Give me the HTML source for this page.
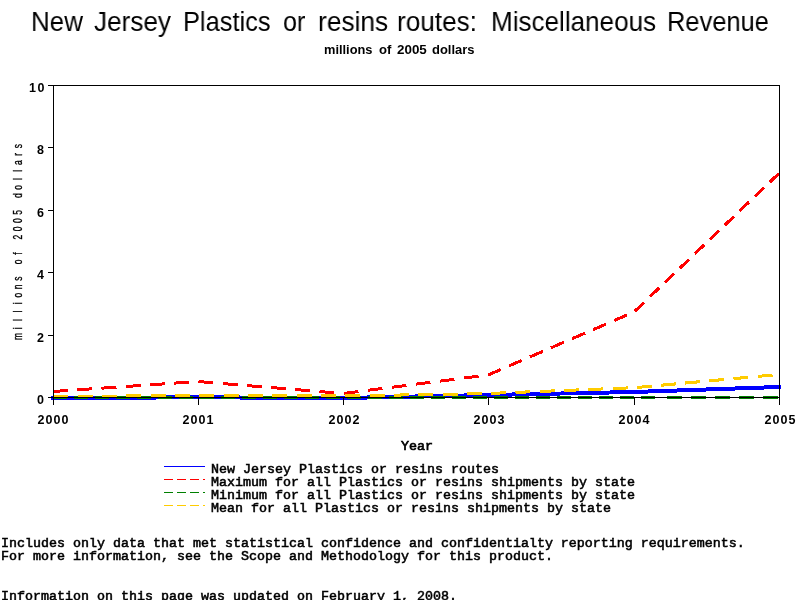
<!DOCTYPE html>
<html><head><meta charset="utf-8"><style>
html,body{margin:0;padding:0;background:#fff;width:800px;height:600px;overflow:hidden}
body{position:relative}
.t{position:absolute;white-space:pre;line-height:1;margin:0;will-change:transform}
.sans{font-family:"Liberation Sans",sans-serif}
.mono{font-family:"Liberation Mono",monospace;-webkit-text-stroke:0.55px #000}
svg{position:absolute;left:0;top:0;will-change:transform}
</style></head><body>

<svg width="800" height="600" viewBox="0 0 800 600">
<path d="M53.0 398.0 L198.0 397.3 L343.0 398.0 L488.0 395.0 L634.0 392.0 L779.0 387.0" fill="none" stroke="#0000ff" stroke-width="4" stroke-linecap="square" shape-rendering="crispEdges"/>
<path d="M53.00 391.50 L67.94 390.47 M77.25 389.83 L92.18 388.80 M101.49 388.16 L116.43 387.13 M125.74 386.48 L140.68 385.45 M149.99 384.81 L164.92 383.78 M174.23 383.14 L189.17 382.11 M198.48 381.54 L213.39 382.77 M222.68 383.54 L237.59 384.78 M246.88 385.55 L261.79 386.78 M271.08 387.55 L285.99 388.78 M295.29 389.55 L310.19 390.79 M319.49 391.55 L334.40 392.79 M343.68 393.41 L358.47 391.53 M367.69 390.35 L382.47 388.46 M391.69 387.29 L406.47 385.40 M415.69 384.23 L430.47 382.34 M439.69 381.16 L454.48 379.28 M463.69 378.10 L478.48 376.21 M487.69 375.04 L488.00 375.00 L500.72 369.51 M508.81 366.02 L521.80 360.42 M529.89 356.92 L542.88 351.32 M550.97 347.83 L563.96 342.22 M572.05 338.73 L585.04 333.13 M593.13 329.64 L606.12 324.03 M614.21 320.54 L627.20 314.94 M634.92 311.12 L644.14 302.30 M649.89 296.80 L659.12 287.97 M664.87 282.47 L674.10 273.64 M679.85 268.14 L689.08 259.32 M694.83 253.81 L704.06 244.99 M709.81 239.49 L719.03 230.66 M724.78 225.16 L734.01 216.33 M739.76 210.83 L748.99 202.01 M754.74 196.51 L763.97 187.68 M769.72 182.18 L778.95 173.35" fill="none" stroke="#ff0000" stroke-width="3" shape-rendering="crispEdges"/>
<path d="M53.00 397.50 L66.60 397.50 M74.00 397.50 L87.60 397.50 M95.00 397.50 L108.60 397.50 M116.00 397.50 L129.60 397.50 M137.00 397.50 L150.60 397.50 M158.00 397.50 L171.60 397.50 M179.00 397.50 L192.60 397.50 M200.00 397.50 L213.60 397.50 M221.00 397.50 L234.60 397.50 M242.00 397.50 L255.60 397.50 M263.00 397.50 L276.60 397.50 M284.00 397.50 L297.60 397.50 M305.00 397.50 L318.60 397.50 M326.00 397.50 L339.60 397.50 M347.00 397.50 L360.60 397.50 M368.00 397.50 L381.60 397.50 M389.00 397.50 L402.60 397.50 M410.00 397.50 L423.60 397.50 M431.00 397.50 L444.60 397.50 M452.00 397.50 L465.60 397.50 M473.00 397.50 L486.60 397.50 M494.00 397.50 L507.60 397.50 M515.00 397.50 L528.60 397.50 M536.00 397.50 L549.60 397.50 M557.00 397.50 L570.60 397.50 M578.00 397.50 L591.60 397.50 M599.00 397.50 L612.60 397.50 M620.00 397.50 L633.60 397.50 M641.00 397.50 L654.60 397.50 M666.50 397.50 L681.50 397.50 M690.70 397.50 L705.70 397.50 M714.90 397.50 L729.90 397.50 M739.10 397.50 L754.10 397.50 M763.30 397.50 L778.30 397.50" fill="none" stroke="#008000" stroke-width="3" shape-rendering="crispEdges"/>
<path d="M53.50 396.50 L68.50 396.39 M77.82 396.33 L92.82 396.23 M102.14 396.16 L117.14 396.06 M126.46 395.99 L141.46 395.89 M150.78 395.83 L165.78 395.72 M175.09 395.66 L190.09 395.55 M199.41 395.50 L214.41 395.56 M223.73 395.59 L238.73 395.64 M248.05 395.67 L263.05 395.72 M272.37 395.76 L287.37 395.81 M296.69 395.84 L311.69 395.89 M321.01 395.92 L336.01 395.98 M345.33 395.96 L360.33 395.70 M369.65 395.54 L384.64 395.28 M393.96 395.12 L408.95 394.86 M418.27 394.70 L433.27 394.44 M442.59 394.28 L457.58 394.02 M466.90 393.86 L481.90 393.61 M491.21 393.37 L506.19 392.78 M515.49 392.41 L530.47 391.81 M539.78 391.44 L554.76 390.85 M564.07 390.48 L579.04 389.88 M588.35 389.51 L603.33 388.92 M612.64 388.55 L627.62 387.95 M636.91 387.44 L651.79 386.08 M661.05 385.24 L675.94 383.88 M685.19 383.04 L700.08 381.68 M709.33 380.84 L724.22 379.49 M733.47 378.64 L748.36 377.29 M757.61 376.45 L772.50 375.09" fill="none" stroke="#ffcc00" stroke-width="3" shape-rendering="crispEdges"/>
<g shape-rendering="crispEdges" stroke="#000" stroke-width="1" fill="none">
<rect x="53.5" y="85.5" width="726" height="312"/>
<line x1="48" y1="397.5" x2="53" y2="397.5"/>
<line x1="48" y1="335.5" x2="53" y2="335.5"/>
<line x1="48" y1="272.5" x2="53" y2="272.5"/>
<line x1="48" y1="210.5" x2="53" y2="210.5"/>
<line x1="48" y1="147.5" x2="53" y2="147.5"/>
<line x1="48" y1="85.5" x2="53" y2="85.5"/>
<line x1="53.5" y1="397" x2="53.5" y2="405"/>
<line x1="198.5" y1="397" x2="198.5" y2="405"/>
<line x1="343.5" y1="397" x2="343.5" y2="405"/>
<line x1="488.5" y1="397" x2="488.5" y2="405"/>
<line x1="634.5" y1="397" x2="634.5" y2="405"/>
<line x1="779.5" y1="397" x2="779.5" y2="405"/>
</g>
<g shape-rendering="crispEdges" stroke-width="1" fill="none">
<line x1="164" y1="466.5" x2="205" y2="466.5" stroke="#0000ff"/>
<line x1="164" y1="479.5" x2="205" y2="479.5" stroke="#ff0000" stroke-dasharray="9 4"/>
<line x1="164" y1="492.5" x2="205" y2="492.5" stroke="#008000" stroke-dasharray="9 4"/>
<line x1="164" y1="505.5" x2="205" y2="505.5" stroke="#ffcc00" stroke-dasharray="9 4"/>
</g>
<text transform="rotate(-90) scale(0.620,1)" x="-542.74 -529.39 -516.03 -502.68 -489.32 -475.97 -462.61 -449.26 -435.90 -422.55 -409.19 -395.84 -382.48 -369.13 -355.77 -342.42 -329.06 -315.71 -302.35 -289.00 -275.65 -262.29 -248.94 -235.58" y="22" text-anchor="middle" font-family="Liberation Sans" font-size="13.7" fill="#000" stroke="#000" stroke-width="0.35">millions of 2005 dollars</text>
</svg>
<div class="t sans" style="left:31.11px;top:8px;font-size:27.5px;transform-origin:0 0;transform:scaleX(0.9434)">New</div>
<div class="t sans" style="left:94.05px;top:8px;font-size:27.5px;transform-origin:0 0;transform:scaleX(0.9500)">Jersey</div>
<div class="t sans" style="left:183.15px;top:8px;font-size:27.5px;transform-origin:0 0;transform:scaleX(0.9239)">Plastics</div>
<div class="t sans" style="left:283.09px;top:8px;font-size:27.5px;transform-origin:0 0;transform:scaleX(0.9130)">or</div>
<div class="t sans" style="left:318.09px;top:8px;font-size:27.5px;transform-origin:0 0;transform:scaleX(0.9571)">resins</div>
<div class="t sans" style="left:397.10px;top:8px;font-size:27.5px;transform-origin:0 0;transform:scaleX(0.9500)">routes:</div>
<div class="t sans" style="left:491.11px;top:8px;font-size:27.5px;transform-origin:0 0;transform:scaleX(0.9474)">Miscellaneous</div>
<div class="t sans" style="left:667.15px;top:8px;font-size:27.5px;transform-origin:0 0;transform:scaleX(0.9252)">Revenue</div>
<div class="t sans" style="left:323.93px;top:44px;font-size:12px;font-weight:bold;transform-origin:0 0;transform:scaleX(1.0682)">millions</div>
<div class="t sans" style="left:379.00px;top:44px;font-size:12px;font-weight:bold;transform-origin:0 0;transform:scaleX(1.0909)">of</div>
<div class="t sans" style="left:397.00px;top:44px;font-size:12px;font-weight:bold;transform-origin:0 0;transform:scaleX(1.1154)">2005</div>
<div class="t sans" style="left:431.92px;top:44px;font-size:12px;font-weight:bold;transform-origin:0 0;transform:scaleX(1.0789)">dollars</div>
<div class="t sans" style="right:755px;top:394px;font-size:12.5px;font-weight:bold;letter-spacing:1.05px">0</div>
<div class="t sans" style="right:755px;top:332px;font-size:12.5px;font-weight:bold;letter-spacing:1.05px">2</div>
<div class="t sans" style="right:755px;top:269px;font-size:12.5px;font-weight:bold;letter-spacing:1.05px">4</div>
<div class="t sans" style="right:755px;top:207px;font-size:12.5px;font-weight:bold;letter-spacing:1.05px">6</div>
<div class="t sans" style="right:755px;top:144px;font-size:12.5px;font-weight:bold;letter-spacing:1.05px">8</div>
<div class="t sans" style="right:754px;top:82px;font-size:12.5px;font-weight:bold;letter-spacing:1.05px">1<span style="margin-left:0.5px">0</span></div>
<div class="t sans" style="left:23px;top:414px;width:60px;text-align:center;font-size:12.5px;font-weight:bold;letter-spacing:1.05px;text-indent:1.05px">2000</div>
<div class="t sans" style="left:168px;top:414px;width:60px;text-align:center;font-size:12.5px;font-weight:bold;letter-spacing:1.05px;text-indent:1.05px">2001</div>
<div class="t sans" style="left:314px;top:414px;width:60px;text-align:center;font-size:12.5px;font-weight:bold;letter-spacing:1.05px;text-indent:1.05px">2002</div>
<div class="t sans" style="left:459px;top:414px;width:60px;text-align:center;font-size:12.5px;font-weight:bold;letter-spacing:1.05px;text-indent:1.05px">2003</div>
<div class="t sans" style="left:604px;top:414px;width:60px;text-align:center;font-size:12.5px;font-weight:bold;letter-spacing:1.05px;text-indent:1.05px">2004</div>
<div class="t sans" style="left:750px;top:414px;width:60px;text-align:center;font-size:12.5px;font-weight:bold;letter-spacing:1.05px;text-indent:1.05px">2005</div>
<div class="t mono" style="left:401px;top:440px;font-size:13.33px;-webkit-text-stroke:0.7px #000">Year</div>
<div class="t mono" style="left:211px;top:463px;font-size:13.33px">New Jersey Plastics or resins routes</div>
<div class="t mono" style="left:211px;top:476px;font-size:13.33px">Maximum for all Plastics or resins shipments by state</div>
<div class="t mono" style="left:211px;top:489px;font-size:13.33px">Minimum for all Plastics or resins shipments by state</div>
<div class="t mono" style="left:211px;top:502px;font-size:13.33px">Mean for all Plastics or resins shipments by state</div>
<div class="t mono" style="left:1px;top:537px;font-size:13.33px">Includes only data that met statistical confidence and confidentialty reporting requirements.</div>
<div class="t mono" style="left:1px;top:550px;font-size:13.33px">For more information, see the Scope and Methodology for this product.</div>
<div class="t mono" style="left:1px;top:590px;font-size:13.33px">Information on this page was updated on February 1, 2008.</div>
</body></html>
